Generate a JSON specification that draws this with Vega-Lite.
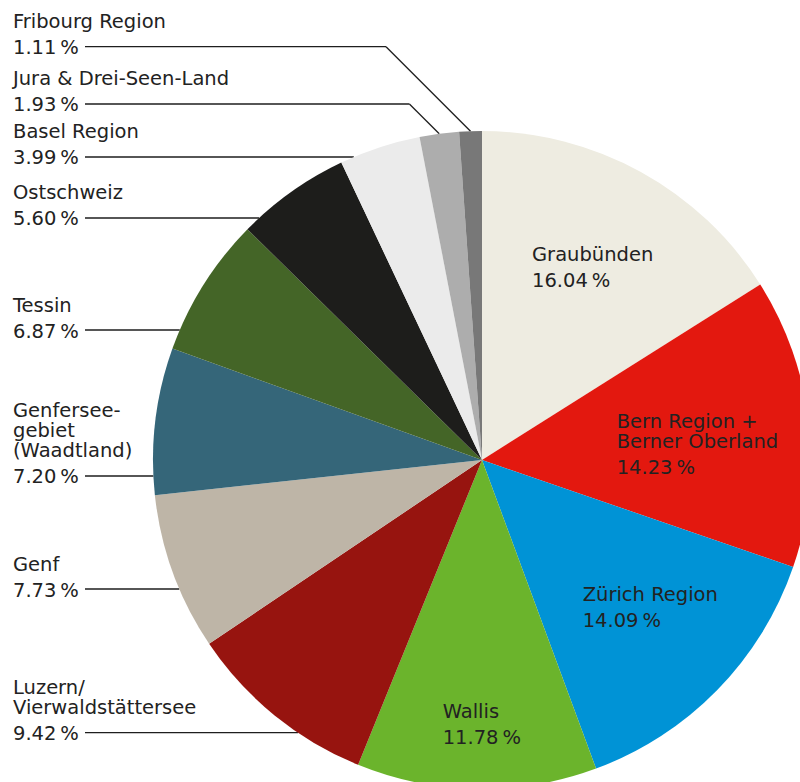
{
  "$schema": "https://vega.github.io/schema/vega-lite/v6.json",
  "width": 800,
  "height": 782,
  "autosize": {"type": "none"},
  "padding": 0,
  "background": "white",
  "config": {"view": {"stroke": null}},
  "datasets": {
    "regions": [
      {"region": "Graubünden", "label": "Graubünden", "pct": 16.04},
      {"region": "Bern Region + Berner Oberland", "label": "Bern Region +\nBerner Oberland", "pct": 14.23},
      {"region": "Zürich Region", "label": "Zürich Region", "pct": 14.09},
      {"region": "Wallis", "label": "Wallis", "pct": 11.78},
      {"region": "Luzern/Vierwaldstättersee", "label": "Luzern/\nVierwaldstättersee", "pct": 9.42},
      {"region": "Genf", "label": "Genf", "pct": 7.73},
      {"region": "Genferseegebiet (Waadtland)", "label": "Genfersee-\ngebiet\n(Waadtland)", "pct": 7.20},
      {"region": "Tessin", "label": "Tessin", "pct": 6.87},
      {"region": "Ostschweiz", "label": "Ostschweiz", "pct": 5.60},
      {"region": "Basel Region", "label": "Basel Region", "pct": 3.99},
      {"region": "Jura & Drei-Seen-Land", "label": "Jura & Drei-Seen-Land", "pct": 1.93},
      {"region": "Fribourg Region", "label": "Fribourg Region", "pct": 1.11}
    ],
    "anchors": [
      {"region": "Graubünden", "side": "inside", "ax": 0.152, "ay": 0.5477},
      {"region": "Bern Region + Berner Oberland", "side": "inside", "ax": 0.4094, "ay": -0.0198},
      {"region": "Zürich Region", "side": "inside", "ax": 0.3061, "ay": -0.4857},
      {"region": "Wallis", "side": "inside", "ax": -0.1195, "ay": -0.8404},
      {"region": "Luzern/Vierwaldstättersee", "side": "outside", "ax": -1.4255, "ay": -0.8289},
      {"region": "Genf", "side": "outside", "ax": -1.4255, "ay": -0.3921},
      {"region": "Genferseegebiet (Waadtland)", "side": "outside", "ax": -1.4255, "ay": -0.0486},
      {"region": "Tessin", "side": "outside", "ax": -1.4255, "ay": 0.3951},
      {"region": "Ostschweiz", "side": "outside", "ax": -1.4255, "ay": 0.7356},
      {"region": "Basel Region", "side": "outside", "ax": -1.4255, "ay": 0.921},
      {"region": "Jura & Drei-Seen-Land", "side": "outside", "ax": -1.4255, "ay": 1.0821},
      {"region": "Fribourg Region", "side": "outside", "ax": -1.4255, "ay": 1.2562}
    ]
  },
  "layer": [
    {
      "data": {"name": "regions"},
      "transform": [
        {"window": [{"op": "sum", "field": "pct", "as": "cum"}], "sort": [{"field": "pct", "order": "descending"}]},
        {"joinaggregate": [{"op": "sum", "field": "pct", "as": "total"}]},
        {"lookup": "region", "from": {"data": {"name": "anchors"}, "key": "region", "fields": ["side", "ax", "ay"]}},
        {"filter": "datum.side === 'outside'"},
        {"calculate": "2 * PI * (datum.cum - datum.pct / 2) / datum.total", "as": "a"},
        {"calculate": "sin(datum.a)", "as": "ex"},
        {"calculate": "cos(datum.a)", "as": "ey"},
        {"calculate": "datum.ax + 0.2188", "as": "x0"},
        {"calculate": "datum.ay >= 1 ? datum.ex - (datum.ay - datum.ey) : -sqrt(1 - datum.ay * datum.ay)", "as": "bx"},
        {"calculate": "datum.ay >= 1 ? datum.ex : datum.bx", "as": "tx"},
        {"calculate": "datum.ay >= 1 ? datum.ey : datum.ay", "as": "ty"}
      ],
      "layer": [
        {
          "mark": {"type": "rule", "stroke": "#1e1e1e", "strokeWidth": 1.3},
          "encoding": {
            "x": {"field": "x0", "type": "quantitative", "scale": {"domain": [-1.46505, 0.96657], "nice": false, "zero": false}, "axis": null},
            "x2": {"field": "bx"},
            "y": {"field": "ay", "type": "quantitative", "scale": {"domain": [-0.97872, 1.39818], "nice": false, "zero": false}, "axis": null}
          }
        },
        {
          "mark": {"type": "rule", "stroke": "#1e1e1e", "strokeWidth": 1.3},
          "encoding": {
            "x": {"field": "bx", "type": "quantitative", "scale": {"domain": [-1.46505, 0.96657], "nice": false, "zero": false}, "axis": null},
            "x2": {"field": "tx"},
            "y": {"field": "ay", "type": "quantitative", "scale": {"domain": [-0.97872, 1.39818], "nice": false, "zero": false}, "axis": null},
            "y2": {"field": "ty"}
          }
        }
      ]
    },
    {
      "data": {"name": "regions"},
      "mark": {"type": "arc", "radius": 329},
      "encoding": {
        "theta": {"field": "pct", "type": "quantitative", "stack": true},
        "order": {"field": "pct", "type": "quantitative", "sort": "descending"},
        "color": {
          "field": "region",
          "type": "nominal",
          "scale": {
            "domain": ["Graubünden", "Bern Region + Berner Oberland", "Zürich Region", "Wallis", "Luzern/Vierwaldstättersee", "Genf", "Genferseegebiet (Waadtland)", "Tessin", "Ostschweiz", "Basel Region", "Jura & Drei-Seen-Land", "Fribourg Region"],
            "range": ["#EEECE1", "#E3180F", "#0093D6", "#6BB42C", "#97140F", "#BEB5A7", "#356679", "#446527", "#1D1D1B", "#EBEBEB", "#ADADAD", "#787878"]
          },
          "legend": null
        },
        "x": {"datum": 0, "type": "quantitative", "scale": {"domain": [-1.46505, 0.96657], "nice": false, "zero": false}, "axis": null},
        "y": {"datum": 0, "type": "quantitative", "scale": {"domain": [-0.97872, 1.39818], "nice": false, "zero": false}, "axis": null}
      }
    },
    {
      "data": {"name": "regions"},
      "transform": [
        {"lookup": "region", "from": {"data": {"name": "anchors"}, "key": "region", "fields": ["side", "ax", "ay"]}},
        {"calculate": "format(datum.pct, '.2f') + '\u2009%'", "as": "pctLabel"},
        {"calculate": "length(split(datum.label, '\\n'))", "as": "nlines"},
        {"calculate": "datum.ay + (datum.nlines - 1) * 20 / 329", "as": "nameY"}
      ],
      "layer": [
        {
          "mark": {"type": "text", "align": "left", "baseline": "alphabetic", "font": "DejaVu Sans", "fontSize": 19.5, "color": "#222222", "dy": 7.5},
          "encoding": {
            "x": {"field": "ax", "type": "quantitative", "scale": {"domain": [-1.46505, 0.96657], "nice": false, "zero": false}, "axis": null},
            "y": {"field": "ay", "type": "quantitative", "scale": {"domain": [-0.97872, 1.39818], "nice": false, "zero": false}, "axis": null},
            "text": {"field": "pctLabel"}
          }
        },
        {
          "mark": {"type": "text", "align": "left", "baseline": "alphabetic", "font": "DejaVu Sans", "fontSize": 19.5, "color": "#222222", "dy": -18.5, "lineHeight": 20, "lineBreak": "\n"},
          "encoding": {
            "x": {"field": "ax", "type": "quantitative", "scale": {"domain": [-1.46505, 0.96657], "nice": false, "zero": false}, "axis": null},
            "y": {"field": "nameY", "type": "quantitative", "scale": {"domain": [-0.97872, 1.39818], "nice": false, "zero": false}, "axis": null},
            "text": {"field": "label"}
          }
        }
      ]
    }
  ]
}
